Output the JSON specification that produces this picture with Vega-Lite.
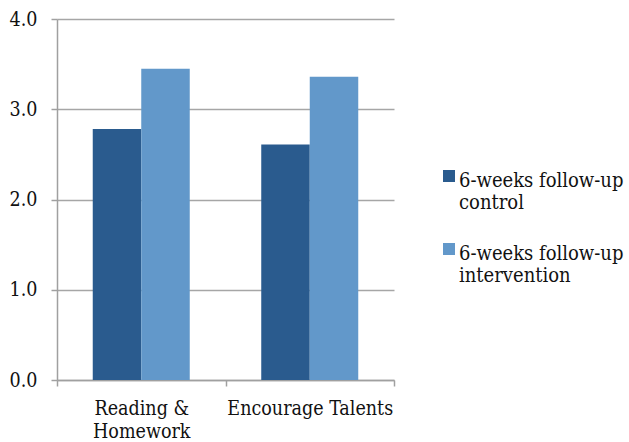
{
  "$schema": "https://vega.github.io/schema/vega-lite/v6.json",
  "width": 337,
  "height": 361,
  "autosize": {"type": "none"},
  "padding": {"left": 57, "top": 19, "right": 235, "bottom": 62},
  "background": "white",
  "data": {
    "values": [
      {"category": "Reading & Homework", "group": "6-weeks follow-up control", "value": 2.78},
      {"category": "Reading & Homework", "group": "6-weeks follow-up intervention", "value": 3.45},
      {"category": "Encourage Talents", "group": "6-weeks follow-up control", "value": 2.61},
      {"category": "Encourage Talents", "group": "6-weeks follow-up intervention", "value": 3.36}
    ]
  },
  "mark": {"type": "bar"},
  "encoding": {
    "x": {
      "field": "category",
      "type": "nominal",
      "sort": ["Reading & Homework", "Encourage Talents"],
      "scale": {"paddingInner": 0, "paddingOuter": 0},
      "axis": {
        "title": null,
        "labelAngle": 0,
        "tickBand": "extent",
        "tickSize": 6,
        "labelPadding": 13,
        "labelLineHeight": 23,
        "labelBaseline": "top",
        "labelExpr": "datum.label == 'Reading & Homework' ? ['Reading &', 'Homework'] : datum.label"
      }
    },
    "xOffset": {
      "field": "group",
      "type": "nominal",
      "sort": ["6-weeks follow-up control", "6-weeks follow-up intervention"],
      "scale": {"paddingInner": 0, "paddingOuter": 0.737}
    },
    "y": {
      "field": "value",
      "type": "quantitative",
      "scale": {"domain": [0, 4], "nice": false},
      "axis": {
        "title": null,
        "values": [0, 1, 2, 3, 4],
        "format": ".1f",
        "tickSize": 6,
        "labelPadding": 14
      }
    },
    "color": {
      "field": "group",
      "type": "nominal",
      "sort": ["6-weeks follow-up control", "6-weeks follow-up intervention"],
      "scale": {"range": ["#2A5B8E", "#6298CA"]},
      "legend": {
        "title": null,
        "orient": "none",
        "legendX": 382,
        "legendY": 142,
        "padding": 0,
        "symbolType": "M-1,-0.167L1,-0.167L1,1.833L-1,1.833Z",
        "symbolSize": 144,
        "symbolStrokeWidth": 0,
        "labelOffset": 0,
        "labelBaseline": "top",
        "labelLineHeight": 21,
        "rowPadding": 21,
        "labelLimit": 300,
        "labelExpr": "datum.label == '6-weeks follow-up control' ? ['6-weeks follow-up', 'control'] : ['6-weeks follow-up', 'intervention']"
      }
    }
  },
  "config": {
    "font": "DejaVu Serif Condensed",
    "view": {"stroke": null},
    "axis": {
      "labelFont": "DejaVu Serif Condensed",
      "labelFontSize": 19.5,
      "labelColor": "#111111",
      "domainColor": "#A0A0A0",
      "domainWidth": 1.5,
      "tickColor": "#A0A0A0",
      "tickWidth": 1.5,
      "gridColor": "#A6A6A6",
      "gridWidth": 1.5
    },
    "axisX": {"grid": false},
    "axisY": {"grid": true, "domain": true},
    "legend": {
      "labelFont": "DejaVu Serif Condensed",
      "labelFontSize": 20,
      "labelColor": "#111111"
    }
  }
}
